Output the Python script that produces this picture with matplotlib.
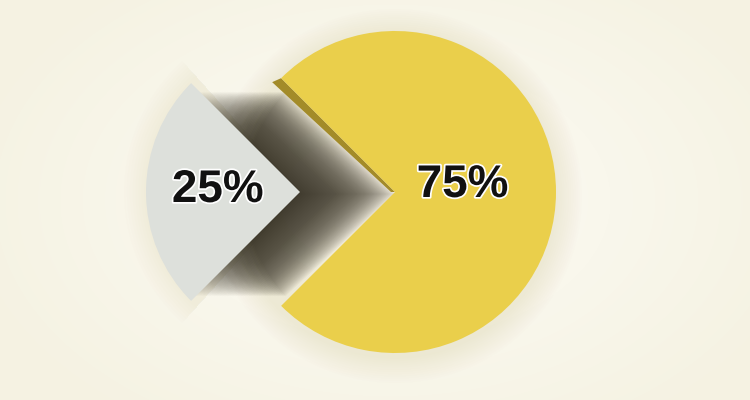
import numpy as np
import matplotlib.pyplot as plt
import matplotlib.patheffects as pe
from matplotlib.patches import Wedge, Polygon, Circle
from matplotlib.colors import LinearSegmentedColormap

# ---- data ----
labels = ['25%', '75%']
values = [25, 75]
colors = ['#dde0db', '#eacf4b']

W, H = 750, 400
fig = plt.figure(figsize=(7.5, 4), dpi=100)
ax = fig.add_axes([0, 0, 1, 1])

# background vignette
yy, xx = np.mgrid[0:H, 0:W]
d = np.sqrt(((xx - 390) / 440.0) ** 2 + ((yy - 200) / 280.0) ** 2)
bg = LinearSegmentedColormap.from_list('bg', ['#fdfcf6', '#f9f7ec', '#f5f2e2'])
ax.imshow(np.clip(d, 0, 1), cmap=bg, extent=(0, W, H, 0), zorder=0, aspect='auto')

center = (395, 192)
radius = 161
explode_px = 95

wedges, texts, autotexts = ax.pie(
    values, colors=colors, startangle=135, counterclock=True,
    center=center, radius=radius, explode=[explode_px, 0],
    frame=True, autopct=lambda p: f'{p:.0f}%', pctdistance=0.5,
    wedgeprops=dict(linewidth=0, zorder=5),
    textprops=dict(fontfamily='Liberation Sans', fontweight='bold',
                   fontsize=33, color='#111111', zorder=10))
wedges[0].set_radius(154)

# soft halo behind pie
for r in np.linspace(radius + 2, radius + 26, 12):
    ax.add_patch(Circle((center[0], center[1] + 4), r, color='#c9c09c',
                        alpha=0.018, lw=0, zorder=1))
gc = wedges[0].center
for r in np.linspace(156, 176, 8):
    ax.add_patch(Wedge(gc, r, 132, 228, color='#c9c09c', alpha=0.02, lw=0, zorder=1))

# motion-blur shadow between the slices
offs = np.linspace(0, explode_px, 60)
for off in offs:
    a = 0.018 + 0.03 * (1 - off / explode_px)
    ax.add_patch(Wedge((center[0] - off, center[1] + 2), 150, 137, 223,
                       color='#3a3528', alpha=a, lw=0, zorder=2))

# visible side face of the yellow slice along the upper notch edge
ang = np.deg2rad(135)
T = (center[0] + radius * np.cos(ang), center[1] - radius * np.sin(ang))
face = Polygon([center, T, (T[0] - 9, T[1] + 4), (center[0] - 4, center[1])],
               closed=True, color='#a38b29', lw=0, zorder=4)
ax.add_patch(face)

# label positions
k = [0.51 / 0.5, 0.42 / 0.5]
dy = [-2, -7]
for w, t, kk, ddy in zip(wedges, autotexts, k, dy):
    cx, cy = w.center
    x, y = t.get_position()
    t.set_position((cx + (x - cx) * kk, cy + (y - cy) * kk + ddy))
    t.set_path_effects([pe.withStroke(linewidth=2.5, foreground='#ffffff')])

ax.set_xlim(0, W)
ax.set_ylim(H, 0)
ax.set_aspect('auto')
ax.axis('off')
fig.savefig('out.png', dpi=100)
